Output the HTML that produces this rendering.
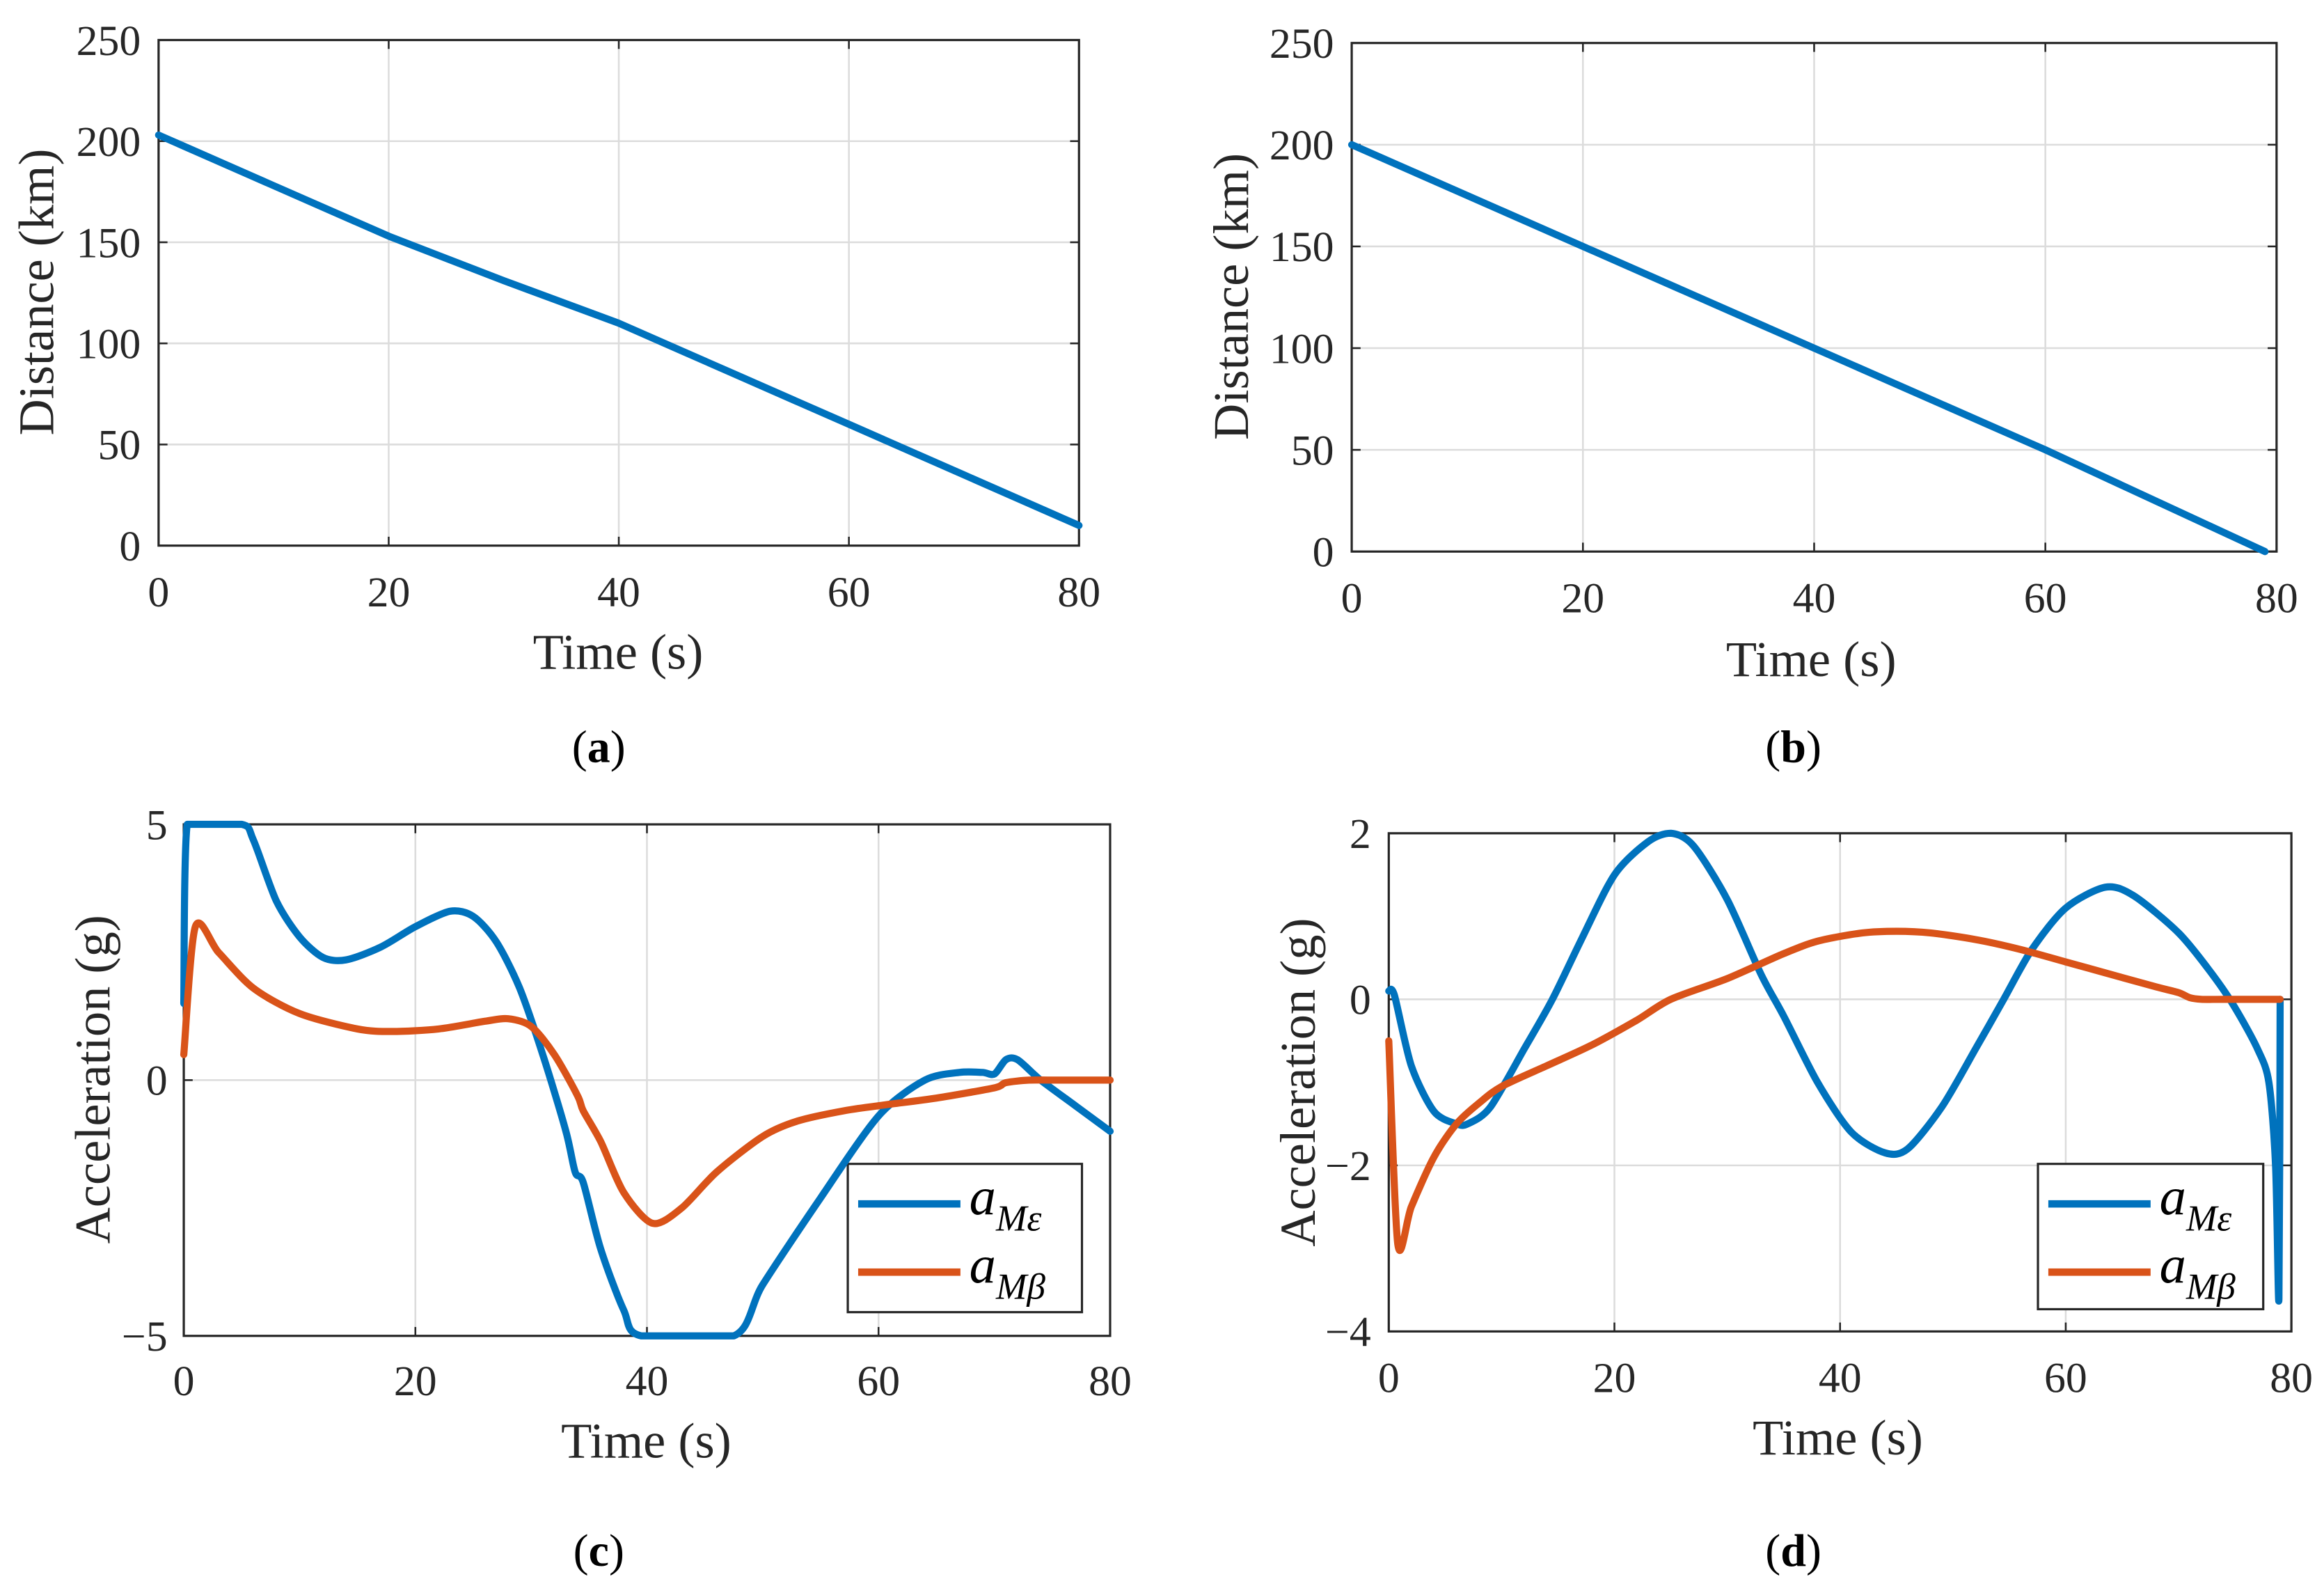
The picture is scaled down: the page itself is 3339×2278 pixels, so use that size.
<!DOCTYPE html>
<html><head><meta charset="utf-8"><style>
html,body{margin:0;padding:0;background:#fff;}
svg{display:block;}
svg text{font-family:"Liberation Serif",serif;}
</style></head><body>
<svg id="fig" width="3339" height="2278" viewBox="0 0 1568 1069.7" preserveAspectRatio="none" xmlns="http://www.w3.org/2000/svg"></svg>
<script>
// Panel (a)
const aTime = [0,10,20,30,40,50,60,70,80];
const aDist = [203,178,153,131,110,85,60,35,10];
// Panel (b)
const bTime = [0,20,40,60,79];
const bDist = [200,150,100,50,0];
// Panel (c)
const cTimeE = [0,0.3,5,6,8,10,12,14,17,20,23,25,27,29,31,33,33.8,34.5,36,38,39.5,47.5,50,55,60,64,67,69,70,71,72,74,77,80];
const cAccE  = [1.5,5,5,4.7,3.5,2.8,2.4,2.35,2.6,3.0,3.3,3.2,2.7,1.8,0.5,-1.0,-1.8,-2.0,-3.3,-4.5,-5,-5,-4,-2.3,-0.7,0,0.15,0.15,0.12,0.4,0.4,0,-0.5,-1.0];
const cTimeB = [0,1,3,6,10,15,18,22,26,28,30,32,34,34.5,36,38,40.5,43,46,50,53,57,60,65,70,71,73,75,80];
const cAccB  = [0.5,3.0,2.5,1.8,1.3,1.0,0.95,1.0,1.15,1.2,1.05,0.5,-0.3,-0.6,-1.2,-2.2,-2.8,-2.5,-1.8,-1.1,-0.8,-0.6,-0.5,-0.35,-0.15,-0.05,0,0,0];
// Panel (d)
const dTimeE = [0,0.5,2,4,6,7,9,12,14.5,17,20,23,25,27,30,33,35,38,41,44,46,49,52,54.5,57,60,63.5,66,70,73,75,77,78,78.6,78.9,79];
const dAccE  = [0.1,0.05,-0.8,-1.35,-1.5,-1.5,-1.3,-0.6,0.0,0.7,1.5,1.9,2.0,1.85,1.2,0.3,-0.2,-1.0,-1.6,-1.85,-1.8,-1.3,-0.6,0,0.6,1.1,1.35,1.25,0.8,0.3,-0.1,-0.6,-1.0,-2.0,-3.6,0];
const dTimeB = [0,0.8,2,4,6,8,10,14,18,22,25,30,35,38,42,45,48,52,56,60,64,68,70,71,72,74,79];
const dAccB  = [-0.5,-2.95,-2.5,-1.9,-1.5,-1.25,-1.05,-0.8,-0.55,-0.25,0,0.25,0.55,0.7,0.8,0.82,0.8,0.72,0.6,0.45,0.3,0.15,0.08,0.02,0,0,0];
// ticks
const xTicks = [0,20,40,60,80];
const distTicks = [0,50,100,150,200,250];
const cTicks = [-5,0,5];
const dTicks = [-4,-2,0,2];

const NS="http://www.w3.org/2000/svg";
const svg=document.getElementById('fig');
function mk(tag,attrs,parent){const e=document.createElementNS(NS,tag);for(const k in attrs)e.setAttribute(k,attrs[k]);(parent||svg).appendChild(e);return e;}
function clamp(v,a,b){const lo=Math.min(a,b),hi=Math.max(a,b);return Math.max(lo,Math.min(hi,v));}
function smoothPath(P,k,yTop,yBot){
  let d='M'+P[0][0].toFixed(1)+','+P[0][1].toFixed(1);
  for(let i=0;i<P.length-1;i++){
    const p0=P[i-1]||P[i],p1=P[i],p2=P[i+1],p3=P[i+2]||P[i+1];
    const c1=[clamp(p1[0]+(p2[0]-p0[0])*k,p1[0],p2[0]),clamp(p1[1]+(p2[1]-p0[1])*k,yTop,yBot)];
    const c2=[clamp(p2[0]-(p3[0]-p1[0])*k,p1[0],p2[0]),clamp(p2[1]-(p3[1]-p1[1])*k,yTop,yBot)];
    d+=' C'+c1.map(v=>v.toFixed(1))+' '+c2.map(v=>v.toFixed(1))+' '+p2.map(v=>v.toFixed(1));
  }
  return d;
}

function panel(p){
  const g=mk('g',{});
  
  
  const sx=v=>p.x0+(v-p.xmin)/(p.xmax-p.xmin)*(p.x1-p.x0);
  const sy=v=>p.y0-(v-p.ymin)/(p.ymax-p.ymin)*(p.y0-p.y1);
  xTicks.forEach(t=>{
    const l=mk('line',{x1:sx(t),x2:sx(t),y1:p.y1,y2:p.y0,stroke:'#dcdcdc','stroke-width':1.2},g);
    
    
    mk('line',{x1:sx(t),x2:sx(t),y1:p.y0,y2:p.y0-6,stroke:'#262626','stroke-width':1.2},g);
    mk('line',{x1:sx(t),x2:sx(t),y1:p.y1,y2:p.y1+6,stroke:'#262626','stroke-width':1.2},g);
    const tx=mk('text',{x:sx(t),y:p.xlabY,'text-anchor':'middle','font-size':29,fill:'#262626'},g);
    tx.textContent=t;
    
    
  });
  p.yticks.forEach(t=>{
    const l=mk('line',{x1:p.x0,x2:p.x1,y1:sy(t),y2:sy(t),stroke:'#dcdcdc','stroke-width':1.2},g);
    
    
    mk('line',{x1:p.x0,x2:p.x0+6,y1:sy(t),y2:sy(t),stroke:'#262626','stroke-width':1.2},g);
    mk('line',{x1:p.x1,x2:p.x1-6,y1:sy(t),y2:sy(t),stroke:'#262626','stroke-width':1.2},g);
    const tx=mk('text',{x:p.ylabX,y:sy(t)+10,'text-anchor':'end','font-size':29,fill:'#262626'},g);
    tx.textContent=(t<0?'\u2212'+(-t):t);
    
    
  });
  const box=mk('rect',{x:p.x0,y:p.y1,width:p.x1-p.x0,height:p.y0-p.y1,fill:'none',stroke:'#262626','stroke-width':1.5},g);
  
  
  if(p.legend){
    const L=p.legend;
    const lg=mk('g',{},g);
    
    
    mk('rect',{x:L[0],y:L[1],width:L[2],height:L[3],fill:'#fff',stroke:'#262626','stroke-width':1.5},lg);
    [['#0072BD','\u03B5',L[1]+27],['#D95319','\u03B2',L[1]+73]].forEach((e,i)=>{
      const le=mk('g',{},lg);
      
      
      mk('line',{x1:L[0]+7,x2:L[0]+76,y1:e[2],y2:e[2],stroke:e[0],'stroke-width':5},le);
      const t=mk('text',{x:L[0]+82,y:e[2]+7,'font-size':36,'font-style':'italic',fill:'#000'},le);
      t.innerHTML='a<tspan font-size="25" dy="11">M'+e[1]+'</tspan>';
    });
  }
  p.series.forEach(s=>{
    const P=s.t.map((t,i)=>[sx(t),sy(s.v[i])]);
    const pl=mk('path',{d:p.smooth?smoothPath(P,0.14,p.y1,p.y0):'M'+P.map(q=>q[0].toFixed(1)+','+q[1].toFixed(1)).join(' L'),fill:'none',stroke:s.color,'stroke-width':4.8,'stroke-linejoin':'round','stroke-linecap':'round'},g);
    
    
  });
  const xl=mk('text',{x:p.xTitle[0],y:p.xTitle[1],'text-anchor':'middle','font-size':34,fill:'#262626'},g);
  xl.textContent='Time (s)';
  
  
  const yl=mk('text',{x:0,y:0,'text-anchor':'middle','font-size':34,fill:'#262626',transform:`translate(${p.yTitle[0]},${p.yTitle[1]}) rotate(-90)`},g);
  yl.textContent=p.ytitle;
  
  
  const cap=mk('text',{x:p.cap[0],y:p.cap[1],'text-anchor':'middle','font-size':31,fill:'#000'},g);
  cap.innerHTML='(<tspan font-weight="bold">'+p.letter+'</tspan>)';
  
  
}

panel({name:'panel-a-distance',letter:'a',x0:107,x1:728,y0:368,y1:27,xmin:0,xmax:80,ymin:0,ymax:250,yticks:distTicks,
  xlabY:409,ylabX:95,xTitle:[417,451],yTitle:[36,197],ytitle:'Distance (km)',cap:[404,514],
  series:[{name:'distance-line',t:aTime,v:aDist,color:'#0072BD'}]});
panel({name:'panel-b-distance',letter:'b',x0:912,x1:1536,y0:372,y1:29,xmin:0,xmax:80,ymin:0,ymax:250,yticks:distTicks,
  xlabY:413,ylabX:900,xTitle:[1222,456],yTitle:[842,200],ytitle:'Distance (km)',cap:[1210,514],
  series:[{name:'distance-line',t:bTime,v:bDist,color:'#0072BD'}]});
panel({name:'panel-c-acceleration',letter:'c',x0:124,x1:749,y0:901,y1:556,xmin:0,xmax:80,ymin:-5,ymax:5,yticks:cTicks,
  xlabY:941,ylabX:113,xTitle:[436,983],yTitle:[74,728],ytitle:'Acceleration (g)',cap:[404,1056],legend:[572,785,158,100],smooth:true,
  series:[{name:'a-me-line',t:cTimeE,v:cAccE,color:'#0072BD'},{name:'a-mb-line',t:cTimeB,v:cAccB,color:'#D95319'}]});
panel({name:'panel-d-acceleration',letter:'d',x0:937,x1:1546,y0:898,y1:562,xmin:0,xmax:80,ymin:-4,ymax:2,yticks:dTicks,
  xlabY:939,ylabX:925,xTitle:[1240,981],yTitle:[887,730],ytitle:'Acceleration (g)',cap:[1210,1056],legend:[1375,785,152,98],smooth:true,
  series:[{name:'a-me-line',t:dTimeE,v:dAccE,color:'#0072BD'},{name:'a-mb-line',t:dTimeB,v:dAccB,color:'#D95319'}]});
</script>
</body></html>
